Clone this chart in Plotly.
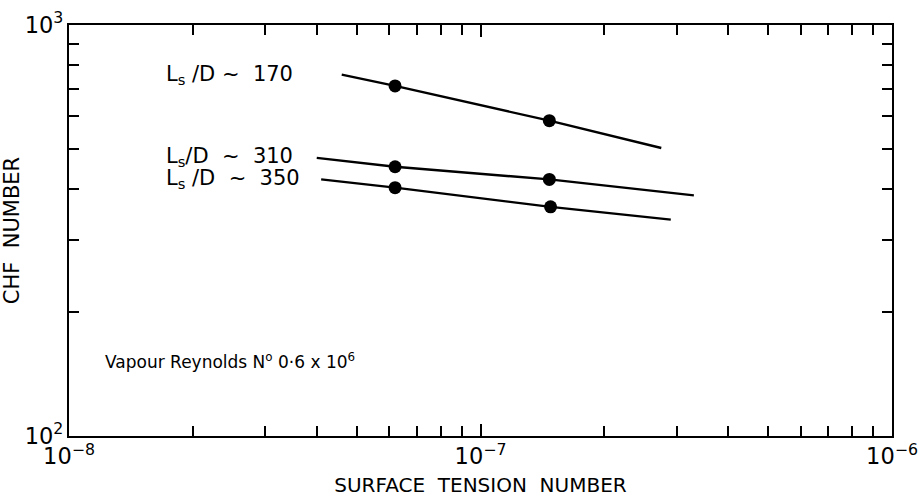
import math
import plotly.graph_objects as go

# ---- data ----
NB = "\u00a0"
labels = [f"L<sub>s</sub>{NB}/D{NB}~{NB}{NB}170", f"L<sub>s</sub>/D{NB}{NB}~{NB}{NB}310", f"L<sub>s</sub>{NB}/D{NB}{NB}~{NB}{NB}350"]
# fitted-line extents (start, end) for each series
line_x = [[4.6e-8, 2.75e-7], [4.0e-8, 3.3e-7], [4.1e-8, 2.9e-7]]
line_y = [[757, 502], [475, 385], [421, 336]]
# measured points
pt_x = [[6.2e-8, 1.47e-7], [6.2e-8, 1.47e-7], [6.2e-8, 1.48e-7]]
pt_y = [[711, 585], [452, 421], [402, 361]]
label_y = [757, 478, 423]
note = f"Vapour{NB}Reynolds{NB}N<sup>o</sup>{NB}0·6{NB}x{NB}10<sup>6</sup>"
note_pos = (1.21e-8, 152)

FONT = "DejaVu Sans"
fig = go.Figure()
for i in range(3):
    fig.add_trace(go.Scatter(x=[line_x[i][0], pt_x[i][0], pt_x[i][1], line_x[i][1]],
                             y=[line_y[i][0], pt_y[i][0], pt_y[i][1], line_y[i][1]],
                             mode="lines", line=dict(color="black", width=2.4),
                             showlegend=False, hoverinfo="skip"))
    fig.add_trace(go.Scatter(x=pt_x[i], y=pt_y[i], mode="markers",
                             marker=dict(color="black", size=13),
                             showlegend=False))
    fig.add_annotation(x=-7.77, y=math.log10(label_y[i]),
                       xref="x", yref="y", text=labels[i], showarrow=False,
                       xanchor="left", font=dict(size=21, color="black", family=FONT))

fig.add_annotation(x=math.log10(note_pos[0]), y=math.log10(note_pos[1]), xref="x", yref="y",
                   text=note, showarrow=False, xanchor="left",
                   font=dict(size=17, color="black", family=FONT))

axis_common = dict(type="log", showgrid=False, zeroline=False, showline=True,
                   linecolor="black", linewidth=2, mirror="ticks", automargin=False,
                   ticks="inside", ticklen=12, tickwidth=1.5, tickcolor="black",
                   dtick=1, exponentformat="power",
                   minor=dict(ticks="inside", ticklen=10, tickwidth=1.5, tickcolor="black"),
                   tickfont=dict(size=18, color="black", family=FONT))

fig.update_xaxes(**axis_common, range=[-8, -6],
                 title=dict(text=f"SURFACE{NB}{NB}TENSION{NB}{NB}NUMBER", standoff=10,
                            font=dict(size=20, color="black", family=FONT)))
fig.update_yaxes(**axis_common, range=[2, 3],
                 title=dict(text=f"CHF{NB}{NB}NUMBER", standoff=10,
                            font=dict(size=21, color="black", family=FONT)))

fig.update_layout(width=919, height=503, margin=dict(l=69, r=27, t=25, b=67),
                  plot_bgcolor="white", paper_bgcolor="white")
fig.write_html("out.html")
